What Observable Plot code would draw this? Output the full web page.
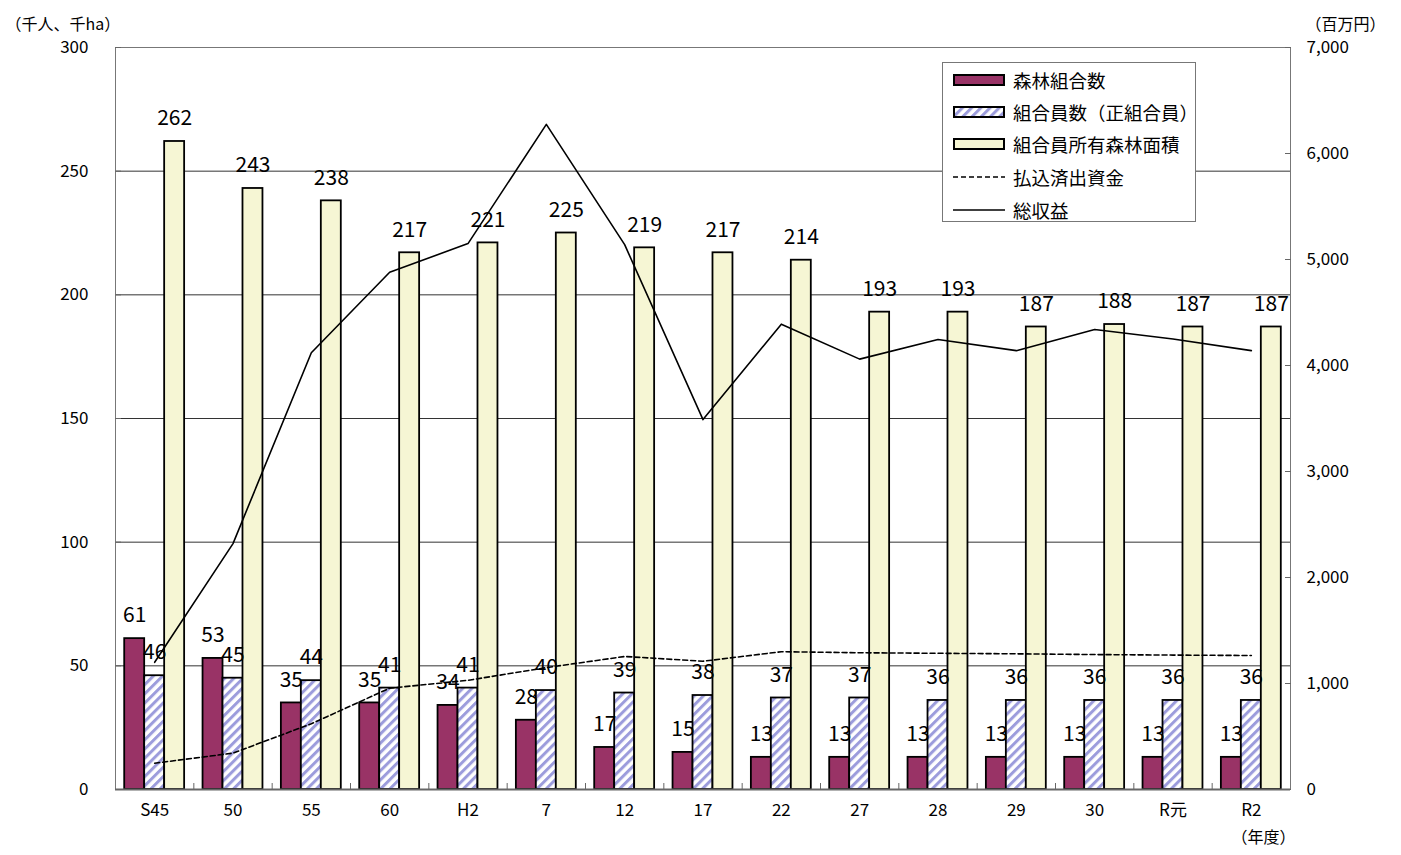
<!DOCTYPE html>
<html><head><meta charset="utf-8">
<script src="https://cdn.jsdelivr.net/npm/d3@7"></script>
<script src="https://cdn.jsdelivr.net/npm/@observablehq/plot@0.6"></script>
<style>
body{margin:0;background:#fff;}
#wrap{position:relative;width:1401px;height:855px;font-family:"Noto Sans CJK JP",sans-serif;color:#000;}
#legend{position:absolute;left:942px;top:62px;width:254px;height:160px;border:1px solid #777;background:#fff;box-sizing:border-box;}
.row{position:absolute;left:0;height:24px;display:flex;align-items:center;}
.row svg{margin-left:10px;margin-right:8px;}
.row span{font-size:18.5px;white-space:nowrap;}
</style></head>
<body><div id="wrap"><div id="chart"></div><div id="legend"></div></div>
<script>
// ---- data ----
const years = ["S45","50","55","60","H2","7","12","17","22","27","28","29","30","R元","R2"];
const kumiaiCount = [61,53,35,35,34,28,17,15,13,13,13,13,13,13,13];          // 森林組合数 (千)
const members = [46,45,44,41,41,40,39,38,37,37,36,36,36,36,36];               // 組合員数（正組合員）(千人)
const forestArea = [262,243,238,217,221,225,219,217,214,193,193,187,188,187,187]; // 組合員所有森林面積 (千ha)
const paidCapital = [248,343,620,956,1030,1150,1255,1210,1300,1290,1285,1280,1273,1268,1264]; // 払込済出資金 (百万円)
const totalRevenue = [1200,2320,4120,4880,5150,6275,5140,3490,4390,4060,4245,4140,4340,4250,4140]; // 総収益 (百万円)
const leftTicks = [0,50,100,150,200,250,300];
const rightTicks = [0,1000,2000,3000,4000,5000,6000,7000];
const gridValues = [50,100,150,200,250];
const seriesNames = ["森林組合数","組合員数（正組合員）","組合員所有森林面積","払込済出資金","総収益"];

// ---- setup ----
const ratio = 300 / 7000; // right axis -> left axis units
const bw = 0.255;         // bar width in category units
const FONT = '"Noto Sans CJK JP", sans-serif';
const barRows = (arr, k) => arr.map((v, i) => ({i, v, x1: i + (k - 1.5) * bw, x2: i + (k - 0.5) * bw, xc: i + (k - 1) * bw}));
const b1 = barRows(kumiaiCount, 0), b2 = barRows(members, 1), b3 = barRows(forestArea, 2);
const lineRows = arr => arr.map((v, i) => ({i, y: v * ratio}));

const colors = {count: "#993366", hatch: "#9c9cdc", area: "#f6f6d4"};

const svg = Plot.plot({
  width: 1401, height: 855,
  marginLeft: 115, marginRight: 111, marginTop: 47, marginBottom: 66,
  style: {fontFamily: FONT, background: "white", color: "#000"},
  x: {type: "linear", domain: [-0.5, 14.5], axis: null, label: null},
  y: {domain: [0, 300], axis: null, label: null},
  marks: [
    Plot.ruleY(gridValues, {stroke: "#333", strokeWidth: 1}),
    Plot.rectY(b1, {x1: "x1", x2: "x2", y: "v", fill: colors.count, stroke: "#000", strokeWidth: 1.8}),
    Plot.rectY(b2, {x1: "x1", x2: "x2", y: "v", fill: "url(#hatch)", stroke: "#000", strokeWidth: 1.8}),
    Plot.rectY(b3, {x1: "x1", x2: "x2", y: "v", fill: colors.area, stroke: "#000", strokeWidth: 1.8}),
    Plot.line(lineRows(paidCapital), {x: "i", y: "y", stroke: "#000", strokeWidth: 1.6, strokeDasharray: "5,3"}),
    Plot.line(lineRows(totalRevenue), {x: "i", y: "y", stroke: "#000", strokeWidth: 1.6}),
    Plot.frame({stroke: "#777", strokeWidth: 1}),
    Plot.ruleY([0], {stroke: "#666", strokeWidth: 2}),
    // left axis (inward ticks)
    Plot.axisY({anchor: "left", ticks: leftTicks, tickSize: 6, dx: 6, tickPadding: 27, fontSize: 17, stroke: "#666", label: null}),
    // right axis
    Plot.axisY({anchor: "right", ticks: rightTicks.map(v => v * ratio), tickFormat: d => d3.format(",")(Math.round(d / ratio)),
      tickSize: 6, dx: -6, tickPadding: 16, fontSize: 17, stroke: "#666", label: null}),
    // x axis labels
    Plot.axisX({anchor: "bottom", ticks: d3.range(years.length), tickFormat: i => years[i], tickSize: 0, tickPadding: 14, fontSize: 17, label: null}),
    // category boundary ticks
    Plot.axisX({anchor: "bottom", ticks: d3.range(years.length - 1).map(i => i + 0.5), tickSize: 6, dy: -6, fill: "none", stroke: "#666", label: null}),
    // data labels
    Plot.text(b1, {x: "xc", y: "v", text: d => String(d.v), dy: -23, fontSize: 21, fontFamily: FONT}),
    Plot.text(b2, {x: "xc", y: "v", text: d => String(d.v), dy: -23, fontSize: 21, fontFamily: FONT}),
    Plot.text(b3, {x: "xc", y: "v", text: d => String(d.v), dy: -23, fontSize: 21, fontFamily: FONT}),
    // axis titles
    Plot.text(["（千人、千ha）"], {text: d => d, frameAnchor: "top-left", dx: -110, dy: -29, textAnchor: "start", fontSize: 16}),
    Plot.text(["（百万円）"], {text: d => d, frameAnchor: "top-right", dx: 15, dy: -29, textAnchor: "start", fontSize: 16}),
    Plot.text(["（年度）"], {text: d => d, frameAnchor: "bottom-right", dx: -27, dy: 53, textAnchor: "middle", fontSize: 16})
  ]
});

// hatch pattern
const NS = "http://www.w3.org/2000/svg";
function hatchDefs(id) {
  const defs = document.createElementNS(NS, "defs");
  defs.innerHTML = `<pattern id="${id}" patternUnits="userSpaceOnUse" width="6.5" height="6.5" patternTransform="rotate(45)">
    <rect width="6.5" height="6.5" fill="#fff"/><rect width="3" height="6.5" fill="${colors.hatch}"/></pattern>`;
  return defs;
}
svg.insertBefore(hatchDefs("hatch"), svg.firstChild);
document.getElementById("chart").appendChild(svg);

// legend
const legend = document.getElementById("legend");
const tops = [5, 37, 69, 102, 135];
const swatches = [
  `<rect x="1" y="1" width="50" height="10" fill="${colors.count}" stroke="#000" stroke-width="2"/>`,
  `<defs>${hatchDefs("hatch2").innerHTML}</defs><rect x="1" y="1" width="50" height="10" fill="url(#hatch2)" stroke="#000" stroke-width="2"/>`,
  `<rect x="1" y="1" width="50" height="10" fill="${colors.area}" stroke="#000" stroke-width="2"/>`,
  `<line x1="0" y1="6" x2="52" y2="6" stroke="#000" stroke-width="1.6" stroke-dasharray="5,3"/>`,
  `<line x1="0" y1="6" x2="52" y2="6" stroke="#000" stroke-width="1.6"/>`
];
seriesNames.forEach((name, k) => {
  const row = document.createElement("div");
  row.className = "row";
  row.style.top = tops[k] + "px";
  row.innerHTML = `<svg width="52" height="12">${swatches[k]}</svg><span>${name}</span>`;
  legend.appendChild(row);
});
</script>
</body></html>
